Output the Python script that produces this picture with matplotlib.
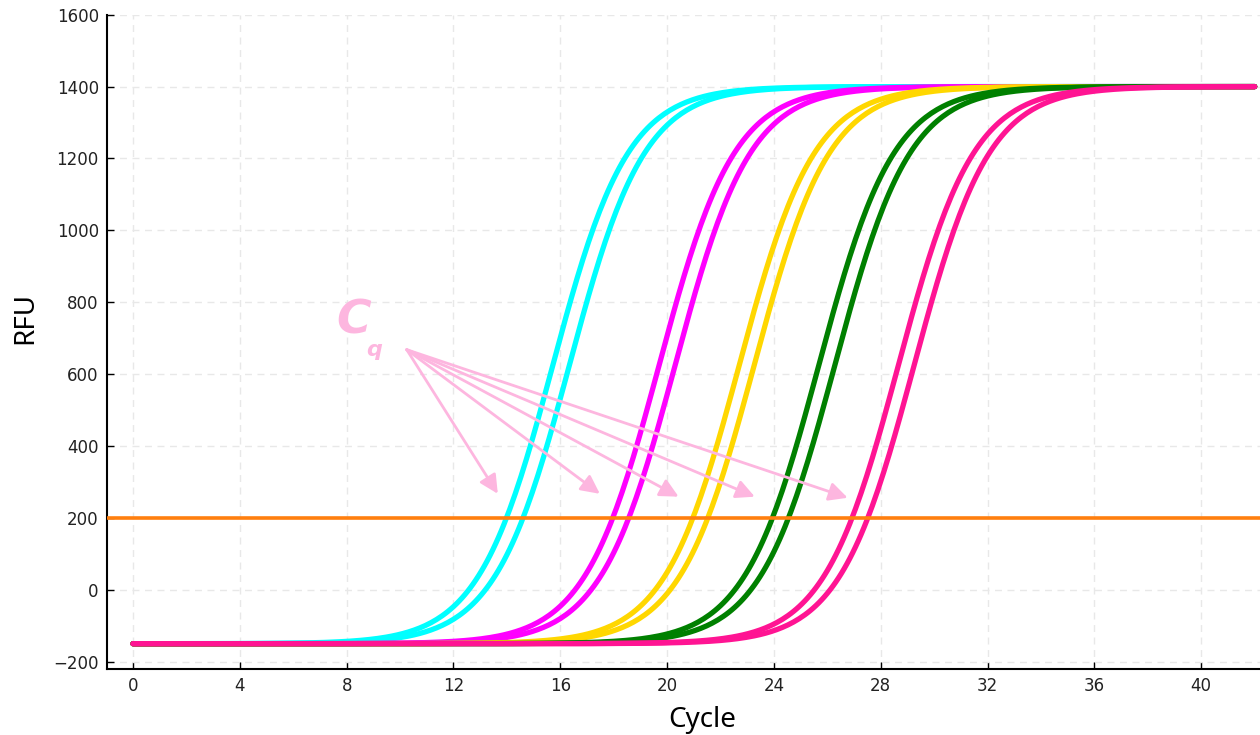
import numpy as np
import matplotlib
matplotlib.use('Agg')
import matplotlib.pyplot as plt

# qPCR amplification curves (logistic)
colors = ['#00FFFF', '#00FFFF', '#FF00FF', '#FF00FF', '#FFD700', '#FFD700',
          '#008000', '#008000', '#FF1493', '#FF1493']
midpoints = [15.72, 16.34, 19.70, 20.30, 22.70, 23.26, 25.68, 26.28, 28.66, 29.25]
slope = 0.71
baseline = -150
plateau = 1400
cycle_start = 0
cycle_end = 42

threshold = 200

# Cq arrows: start point and tips
arrow_start = (10.25, 668)
arrow_tips_x = [13.66, 17.48, 20.43, 23.28, 26.76]
arrow_tips_y = [267, 267, 259, 259, 256]

xticks = list(range(0, 41, 4))
yticks = list(range(-200, 1601, 200))

fig = plt.figure(figsize=(12.6, 7.35), dpi=100)
ax = fig.add_axes([0.085, 0.09, 0.915, 0.89])

x = np.linspace(cycle_start, cycle_end, 400)
for c, x0 in zip(colors, midpoints):
    y = baseline + (plateau - baseline) / (1 + np.exp(-slope * (x - x0)))
    ax.plot(x, y, color=c, lw=3.8, solid_capstyle='round', zorder=3)

ax.axhline(threshold, color='#FF7F0E', lw=2.6, zorder=4)

pink = '#FDB6DF'
for tx, ty in zip(arrow_tips_x, arrow_tips_y):
    ax.annotate('', xy=(tx, ty), xytext=arrow_start,
                arrowprops=dict(arrowstyle='-|>', color=pink, lw=2,
                                mutation_scale=28, shrinkA=0, shrinkB=0),
                zorder=5)
ax.text(7.6, 748, 'C', color=pink, fontsize=34, fontstyle='italic',
        fontweight='bold', family='DejaVu Sans', ha='left', va='center')
ax.text(8.75, 668, 'q', color=pink, fontsize=16, fontstyle='italic',
        fontweight='bold', family='DejaVu Sans', ha='left', va='center')

ax.set_xlim(-0.97, 42.2)
ax.set_ylim(-220, 1600)
ax.set_xticks(xticks)
ax.set_yticks(yticks)
ax.grid(True, color='#e8e8e8', lw=1, linestyle=(0, (5, 4)))
ax.set_axisbelow(True)
for s in ['top', 'right']:
    ax.spines[s].set_visible(False)
for s in ['left', 'bottom']:
    ax.spines[s].set_linewidth(1.5)
ax.tick_params(direction='in', length=5, width=1, labelsize=12,
               labelcolor='#222222', pad=6)
ax.set_xlabel('Cycle', fontsize=20, family='Noto Sans', va='center', ha='center')
ax.set_ylabel('RFU', fontsize=20, family='Noto Sans', va='center', ha='center')
ax.xaxis.set_label_coords(0.516, -0.078)
ax.yaxis.set_label_coords(-0.071, 0.537)

fig.savefig('out.png', dpi=100)
